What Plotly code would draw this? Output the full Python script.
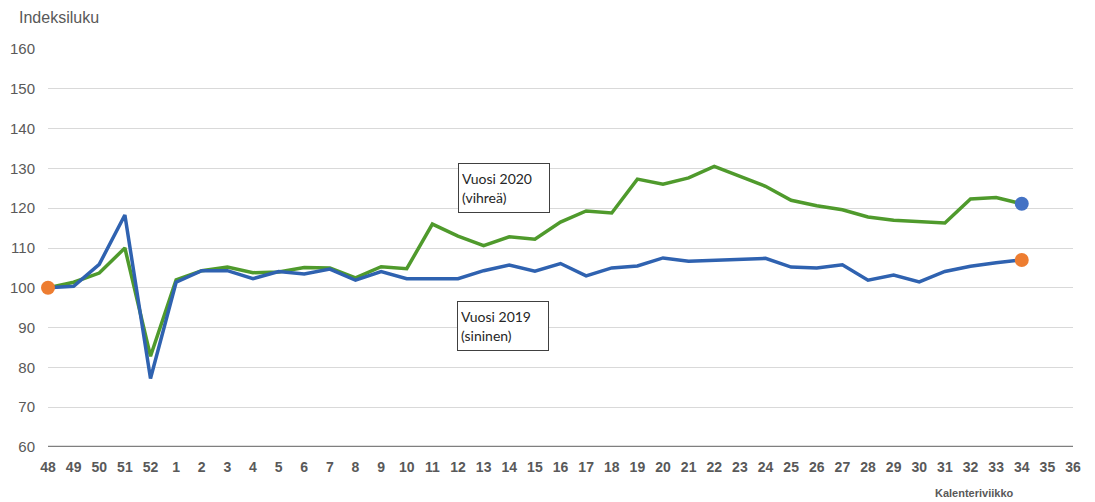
import plotly.graph_objects as go

# Calendar weeks (48/2019 .. 36/2020)
weeks = ['48', '49', '50', '51', '52'] + [str(w) for w in range(1, 37)]

# Index values, week 48 = 100
vuosi_2020 = [100, 101.4, 103.7, 110, 82.8, 102, 104.3, 105.2, 103.8, 104, 105.1,
              105, 102.5, 105.3, 104.8, 116, 113, 110.6, 112.8, 112.2, 116.5,
              119.3, 118.8, 127.3, 126, 127.6, 130.5, 128, 125.5, 122, 120.6,
              119.6, 117.8, 117, 116.6, 116.3, 122.3, 122.7, 121.1]
vuosi_2019 = [100, 100.4, 105.9, 118.3, 77.2, 101.4, 104.3, 104.3, 102.3, 104.1, 103.5,
              104.7, 101.9, 104.1, 102.3, 102.3, 102.3, 104.3, 105.7, 104.2, 106.1,
              103, 105, 105.5, 107.5, 106.7, 106.9, 107.2, 107.4, 105.2, 105,
              105.8, 101.9, 103.2, 101.5, 104.1, 105.4, 106.3, 107]

green = '#4f9a2c'
blue = '#2f62b0'
orange = '#ed7d31'
marker_blue = '#4472c4'

fig = go.Figure()

fig.add_trace(go.Scatter(
    x=weeks[:len(vuosi_2020)], y=vuosi_2020, mode='lines',
    line=dict(color=green, width=3.5), name='Vuosi 2020'
))
fig.add_trace(go.Scatter(
    x=weeks[:len(vuosi_2019)], y=vuosi_2019, mode='lines',
    line=dict(color=blue, width=3.5), name='Vuosi 2019'
))

# end point markers
fig.add_trace(go.Scatter(
    x=[weeks[0], weeks[len(vuosi_2019) - 1]], y=[vuosi_2019[0], vuosi_2019[-1]],
    mode='markers', marker=dict(color=orange, size=14), cliponaxis=False
))
fig.add_trace(go.Scatter(
    x=[weeks[len(vuosi_2020) - 1]], y=[vuosi_2020[-1]],
    mode='markers', marker=dict(color=marker_blue, size=14), cliponaxis=False
))

box_font = dict(family='Lato, Liberation Sans, sans-serif', size=14, color='#262626')

# page body has an 8px margin, so the figure is 8px smaller than the window
fig.update_layout(
    width=1087, height=494,
    margin=dict(l=40, r=22, t=41, b=55),
    plot_bgcolor='white', paper_bgcolor='white',
    showlegend=False,
    font=dict(family='Liberation Sans, Arial, sans-serif', color='#595959'),
    xaxis=dict(
        type='category', categoryorder='array', categoryarray=weeks,
        range=[0, len(weeks) - 1],
        showgrid=False, zeroline=False,
        showline=False, ticks='', automargin=False,
        tickfont=dict(size=14, color='#595959', weight='bold'),
        ticklabelstandoff=10,
    ),
    yaxis=dict(
        range=[60, 160], dtick=10, tick0=60,
        showgrid=True, gridcolor='#d9d9d9', gridwidth=1,
        zeroline=False, showline=False, ticks='', automargin=False,
        tickfont=dict(size=15, color='#595959'),
        ticklabelstandoff=12,
    ),
    shapes=[dict(type='line', xref='paper', yref='y', x0=0, x1=1, y0=60, y1=60,
                 line=dict(color='#7f7f7f', width=2.5), layer='above')],
    annotations=[
        dict(text='Indeksiluku', xref='paper', yref='paper', x=-0.03, y=1.08,
             xanchor='left', yanchor='middle', showarrow=False,
             font=dict(size=16, color='#595959')),
        dict(text='<b>Kalenteriviikko</b>', xref='paper', yref='paper', x=0.904, y=-0.116,
             xanchor='center', yanchor='middle', showarrow=False,
             font=dict(size=11, color='#595959')),
        dict(text='Vuosi 2020<br>(vihreä)', xref='paper', yref='paper', x=0.445, y=0.652,
             xanchor='center', yanchor='middle', showarrow=False, align='left',
             width=84, height=42, bordercolor='#404040', borderwidth=1, borderpad=3,
             bgcolor='white', font=box_font),
        dict(text='Vuosi 2019<br>(sininen)', xref='paper', yref='paper', x=0.444, y=0.305,
             xanchor='center', yanchor='middle', showarrow=False, align='left',
             width=84, height=42, bordercolor='#404040', borderwidth=1, borderpad=3,
             bgcolor='white', font=box_font),
    ],
)

fig.write_html("out.html")
